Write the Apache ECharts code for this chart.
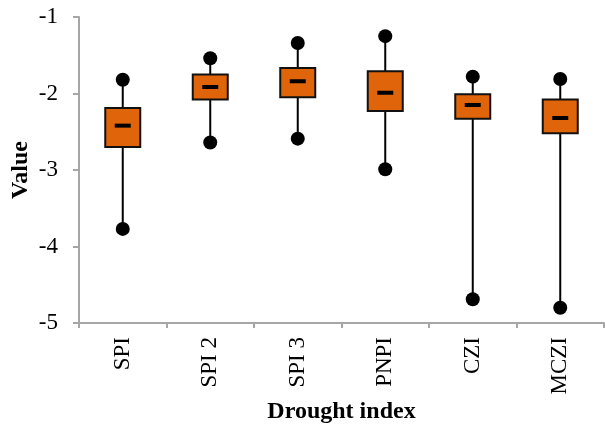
<!DOCTYPE html>
<html>
<head>
<meta charset="utf-8">
<script src="https://cdn.jsdelivr.net/npm/echarts@6/dist/echarts.min.js"></script>
<style>html,body{margin:0;padding:0;background:#fff}#c{width:605px;height:425px}</style>
</head>
<body>
<div id="c"></div>
<script>
var categories = ['SPI', 'SPI 2', 'SPI 3', 'PNPI', 'CZI', 'MCZI'];
var minVals    = [-3.77, -2.64, -2.59, -2.99, -4.69, -4.80];
var q1Vals     = [-2.70, -2.08, -2.05, -2.23, -2.33, -2.52];
var medianVals = [-2.42, -1.915, -1.84, -1.99, -2.15, -2.32];
var q3Vals     = [-2.19, -1.75, -1.667, -1.71, -2.01, -2.08];
var maxVals    = [-1.82, -1.54, -1.34, -1.25, -1.78, -1.81];
var yTicks     = [-5, -4, -3, -2, -1];

var data = categories.map(function (c, i) {
  return [i, minVals[i], q1Vals[i], medianVals[i], q3Vals[i], maxVals[i]];
});

var font = 'Liberation Serif, Times New Roman, serif';
var chart = echarts.init(document.getElementById('c'), null, {renderer: 'canvas'});
chart.setOption({
  animation: false,
  grid: {left: 79, top: 17, right: 1, bottom: 102, containLabel: false, outerBoundsMode: 'none'},
  xAxis: {
    type: 'category',
    data: categories,
    name: 'Drought index',
    nameLocation: 'middle',
    nameGap: 77,
    nameMoveOverlap: false,
    nameTextStyle: {fontFamily: font, fontWeight: 'bold', fontSize: 24, color: '#000'},
    axisLine: {lineStyle: {color: '#A6A6A6', width: 2}},
    axisTick: {show: true, length: 5, lineStyle: {color: '#A6A6A6', width: 2}},
    axisLabel: {rotate: 90, margin: 14, fontFamily: font, fontSize: 23, color: '#000'},
    splitLine: {show: false}
  },
  yAxis: {
    type: 'value',
    min: yTicks[0],
    max: yTicks[yTicks.length - 1],
    interval: 1,
    name: 'Value',
    nameLocation: 'middle',
    nameGap: 46,
    nameMoveOverlap: false,
    nameTextStyle: {fontFamily: font, fontWeight: 'bold', fontSize: 24, color: '#000'},
    axisLine: {show: true, lineStyle: {color: '#A6A6A6', width: 2}},
    axisTick: {show: true, length: 6, lineStyle: {color: '#A6A6A6', width: 2}},
    axisLabel: {margin: 21, fontFamily: font, fontSize: 23, color: '#000'},
    splitLine: {show: false}
  },
  series: [{
    type: 'custom',
    data: data,
    encode: {x: 0, y: [1, 2, 3, 4, 5]},
    renderItem: function (params, api) {
      var idx = api.value(0);
      var pMin = api.coord([idx, api.value(1)]);
      var pQ1 = api.coord([idx, api.value(2)]);
      var pMed = api.coord([idx, api.value(3)]);
      var pQ3 = api.coord([idx, api.value(4)]);
      var pMax = api.coord([idx, api.value(5)]);
      var band = api.size([1, 0])[0];
      var bw = band * 0.4;
      var x = pMin[0];
      return {
        type: 'group',
        children: [
          {type: 'line', shape: {x1: x, y1: pMin[1], x2: x, y2: pMax[1]},
           style: {stroke: '#000', lineWidth: 2}},
          {type: 'rect', shape: {x: x - bw / 2, y: pQ3[1], width: bw, height: pQ1[1] - pQ3[1]},
           style: {fill: '#E0640A', stroke: '#111', lineWidth: 2}},
          {type: 'rect', shape: {x: x - 8, y: pMed[1] - 2, width: 16, height: 4},
           style: {fill: '#000'}},
          {type: 'circle', shape: {cx: x, cy: pMin[1], r: 7}, style: {fill: '#000'}},
          {type: 'circle', shape: {cx: x, cy: pMax[1], r: 7}, style: {fill: '#000'}}
        ]
      };
    }
  }]
});
</script>
</body>
</html>
